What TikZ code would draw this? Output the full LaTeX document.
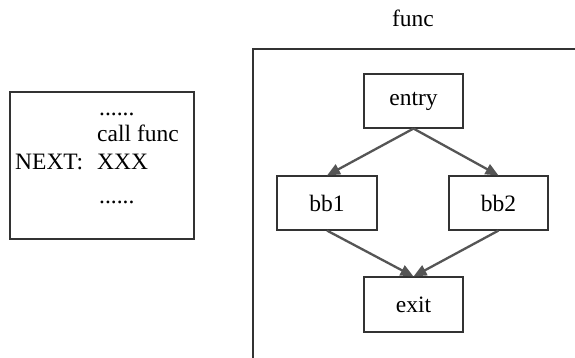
\documentclass[tikz,border=0pt]{standalone}
\usepackage{fontspec}
\setmainfont{Liberation Serif}
\usetikzlibrary{arrows.meta}
\definecolor{edgegray}{HTML}{555555}
\definecolor{boxline}{HTML}{333333}
\tikzset{
  blockbox/.style={draw=boxline, line width=1.1pt, minimum width=99pt, minimum height=54pt, inner sep=0pt, font=\fontsize{23.5}{28}\selectfont},
  flowarrow/.style={draw=edgegray, line width=2.3pt, -{Triangle[length=13pt,width=11pt]}},
  codetext/.style={anchor=base west, inner sep=0pt, font=\fontsize{23.5}{28}\selectfont},
}
\begin{document}
\begin{tikzpicture}[x=1pt,y=-1pt]
\useasboundingbox (0,0) rectangle (575,358);
\clip (0,0) rectangle (575,358);
\fill[white] (0,0) rectangle (575,358);
% left code box
\draw[boxline, line width=1.1pt] (10,92) rectangle (194,239);
\node[codetext] (d1) at (99,116) {......};
\node[codetext] (call) at (97,142) {call func};
\node[codetext] (next) at (15,170) {NEXT:};
\node[codetext] (xxx) at (97,170) {XXX};
\node[codetext] (d2) at (99,203) {......};
% func frame
\coordinate (fbl) at (253,365);
\coordinate (ftl) at (253,49);
\coordinate (ftr) at (585,49);
\draw[boxline, line width=1.1pt] (fbl) -- (ftl) -- (ftr);
\node[anchor=base, inner sep=0pt, font=\fontsize{23.5}{28}\selectfont] (title) at (413,27) {func};
% blocks
\node[blockbox] (entry) at (413.5,101) {entry};
\node[blockbox, minimum width=100pt] (bb1) at (327,203) {bb1};
\node[blockbox] (bb2) at (498.5,203) {bb2};
\node[blockbox, minimum height=55pt] (exit) at (413.5,304.5) {exit};
% edges
\draw[flowarrow] (entry.south) -- (bb1.north);
\draw[flowarrow] (entry.south) -- (bb2.north);
\draw[flowarrow] (bb1.south) -- (exit.north);
\draw[flowarrow] (bb2.south) -- (exit.north);
\end{tikzpicture}
\end{document}
